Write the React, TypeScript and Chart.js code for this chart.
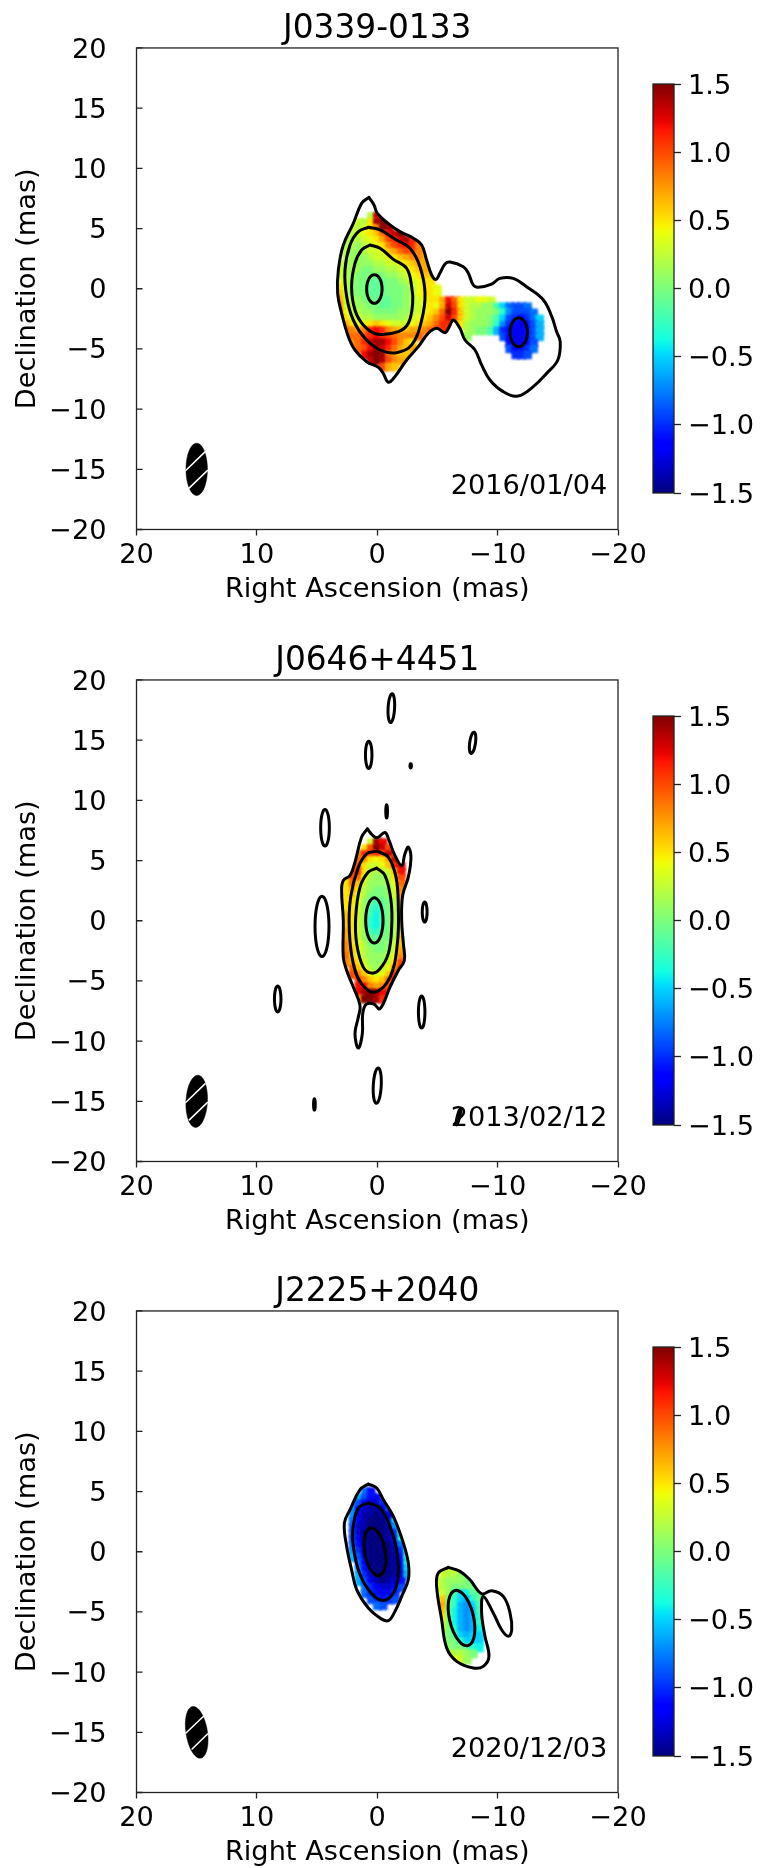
import React, { useEffect, useRef } from "react";
import { Chart, registerables } from "chart.js";

Chart.register(...registerables);

const FONT = "'DejaVu Sans'";
const LEVELS = "ABCDEFGHIJKLMNOPQRSTUVWXYZabcde"; // A = -1.5 ... P = 0 ... e = +1.5 in steps of 0.1

const NAMES = ["J0339-0133", "J0646+4451", "J2225+2040"];
const DATES = ["2016/01/04", "2013/02/12", "2020/12/03"];
const X_LABEL = "Right Ascension (mas)";
const Y_LABEL = "Declination (mas)";

// spectral index maps, 0.5 mas cells, one letter per cell
const MAP_A_ROWS = [
  ".....Rc",
  "...SRUde",
  "..SRSUXed",
  "..RSTUVYbce",
  ".RRRSTUWZacda",
  ".RRQRSTUXZabaX",
  ".RQQRSSTVWYZZX",
  ".RQQQRSSTUVWXXW",
  "SRQQQQRRSSTUVWW",
  "SRQQPPQQRRSTUVWV",
  "SRQPPPPPQQRSTUVV",
  "TRQPPOOOPPQRSTUU",
  "URQPPOOOPPPQRTUUT",
  "VSQPPOOOPPPQRTUUT",
  "WSRQPPOOOPPQRSTUUWbYUSSTTS",
  "XSRQQPPOOPPQRSTUTWcZUSRRQQNKHGGH",
  "YTRRQQPPPPQQRSTUVYeaVSRQQQPMIGGGH",
  "ZUSSRRQQQQQRSTUVXZcZVSRQQPNKGFEFHK",
  ".WUTTUVUTSSSTUVWYaaXURQQQPMIFEDEGJ",
  ".YXWXabaXWVVWWXYZa...RQPPNJFEDDEGJ",
  "..YYZabaZYXXXY.......Q.....GEDDEGJ",
  "..XYacddbZXVU...............EDDEG",
  "...YZbdcaYWVW...............GEEFH",
  "....bdedYWVV.................FFG",
  ".....cedZXW",
  ".......ZWV",
];
const MAP_B_ROWS = [
  "....Sdb",
  "...UZecZ",
  "..XaZaZc",
  "..YXUTUWc",
  ".WZUSSTVac",
  ".ZaURRRSVb",
  "UZYTRQQRUZ",
  "UYVSQQQRTY",
  "UWURQPPQSX",
  "UVTRPPPQSW",
  "UUTQONOPRV",
  "UUSQNMOPRU",
  "VUSQNLNPRU",
  "VUSQMLNPRU",
  "VUSQMLNPRU",
  "WUSQNMOPRU",
  "WUSQOOPPRV",
  "XUTRPPPQSV",
  "XVTRQPPQSW",
  "YVTRQQQRTX",
  "XWUSQQQSUZ",
  ".YVTRQRTXa",
  ".ZXVTSTVa",
  "..aXVUVYb",
  "..bbXWXZ",
  "..bdedb",
  "..Weeda",
];
const MAP_C_CORE_ROWS = [
  "...HE",
  "..JGEE",
  ".IGDCCF",
  ".IECBBCG",
  ".IDBBABD",
  ".HDBAAACK",
  ".GCBAAABI",
  ".GCAAAABFN",
  ".GDAAAABEL",
  ".HEBAAAACH",
  ".IFBAAAABFM",
  ".JGCAAAABEM",
  "..HDAAAABDL",
  "..IEBAAABCK",
  "..JFCAAABCJ",
  "..JGDBABCE",
  "...HFDCCDG",
  "...HFEDDF",
  "....GFEFG",
  ".....HG",
];
const MAP_C_JET_ROWS = [
  ".RSS",
  ".SRRQP",
  "SRQQQPO",
  "TRQPPPPO",
  ".SQNKLOO",
  ".VPMKJMO",
  ".WPMJIKN",
  ".VPLJIJN",
  ".UPLJIJM",
  ".TPLJIJM",
  ".SPMJIJL",
  ".RPNKJKK",
  ".RPPMKKK",
  ".RQPPOML",
  "..RRRQP",
  "...TSQ",
];
const MAP_A_ORIGIN = [3, 6];
const MAP_B_ORIGIN = [2.5, 6.5];
const MAP_C_CORE_ORIGIN = [2.5, 5];
const MAP_C_JET_ORIGIN = [-5, -1.5];

// contours, [RA, Dec] in mas
const CONTOURS_A = [
  [[0.69,7.59],[0.27,6.96],[-0.01,6.26],[-1.06,5.3],[-1.89,4.74],[-3,4.19],[-3.69,3.63],[-4.1,2.39],[-4.52,1.14],[-4.88,0.78],[-5.2,1.28],[-5.63,2.06],[-6.04,2.22],[-7.15,1.83],[-7.57,1.28],[-7.98,0.31],[-8.4,0.12],[-9.5,0.39],[-10.2,0.86],[-11.3,0.86],[-12.4,0.17],[-13.8,-0.93],[-14.5,-2.32],[-14.9,-3.57],[-15.2,-4.4],[-15,-5.92],[-14.07,-7.03],[-12.96,-8.13],[-11.7,-8.91],[-10.47,-8.55],[-9.36,-7.58],[-8.67,-6.33],[-8.12,-5.09],[-7.29,-4.26],[-6.87,-3.29],[-6.32,-2.6],[-5.99,-3.15],[-5.63,-3.65],[-4.93,-3.29],[-4.24,-3.7],[-3.41,-4.81],[-2.44,-5.92],[-1.47,-7.3],[-0.92,-7.77],[-0.5,-7.03],[-0.09,-6.53],[0.88,-6.06],[1.85,-5.09],[2.4,-3.98],[2.96,-2.04],[3.29,-0.38],[3.23,1.56],[2.82,3.63],[1.99,5.43],[1.3,7.09],[0.69,7.59]],
  [[0.74,5.1],[-0.23,4.88],[-1.6,4.05],[-2.72,3.36],[-3.55,1.83],[-3.97,-0.38],[-3.69,-2.6],[-2.86,-4.67],[-1.6,-5.31],[-0.23,-5.09],[1.02,-4.12],[1.99,-2.6],[2.54,-0.66],[2.68,1.56],[2.26,3.63],[1.57,4.74],[0.74,5.1]],
  [[0.6,3.63],[-0.23,3.36],[-1.34,2.44],[-2.44,1.7],[-2.86,0.17],[-2.94,-1.21],[-2.58,-2.87],[-1.75,-3.56],[0.05,-3.76],[1.16,-3.01],[1.85,-1.77],[2.13,0.17],[1.85,2.11],[1.3,3.22],[0.6,3.63]],
];
const CONTOURS_B = [
  [[0.82,7.64],[0.46,7.17],[0,6.89],[-0.64,7.33],[-0.98,6.67],[-1.47,5.42],[-2.03,4.59],[-2.3,5.56],[-2.58,6.12],[-2.8,5.28],[-2.58,3.62],[-2.11,2.1],[-2.03,0.02],[-2.17,-1.91],[-2.25,-3.3],[-1.75,-4.13],[-1.06,-5.51],[-0.23,-7.31],[0.33,-6.9],[0.93,-6.95],[1.21,-7.73],[1.24,-9.39],[1.57,-10.58],[1.85,-9.39],[1.57,-8],[1.43,-7.04],[1.99,-5.51],[2.54,-4.13],[2.82,-3.02],[2.82,0.02],[2.96,2.52],[2.82,3.35],[2.26,3.76],[1.85,4.87],[1.3,6.95],[0.82,7.64]],
  [[0,5.78],[-0.92,5.28],[-1.56,3.62],[-1.75,1.13],[-1.67,-1.91],[-1.06,-4.68],[0.19,-5.93],[1.3,-5.24],[1.99,-3.57],[2.32,-0.81],[2.21,1.96],[1.57,4.45],[0.88,5.56],[0,5.78]],
  [[0.05,4.37],[-0.64,3.76],[-1.14,1.69],[-1.2,-0.53],[-0.92,-2.74],[-0.23,-3.99],[0.46,-4.35],[1.16,-3.85],[1.71,-1.91],[1.79,0.3],[1.43,2.79],[0.74,4.04],[0.05,4.37]],
];
const CONTOURS_C = [
  [[0.74,5.62],[0.05,5.29],[-0.51,4.32],[-1.34,2.93],[-2.17,0.72],[-2.58,-0.94],[-2.58,-2.33],[-2.03,-3.71],[-1.47,-4.96],[-0.92,-5.73],[-0.23,-5.51],[0.74,-4.68],[1.71,-3.14],[2.13,-1.5],[2.54,0.44],[2.73,2.38],[2.26,3.49],[1.43,5.15],[0.74,5.62]],
  [[0.74,4.04],[-0.23,3.63],[-1.06,2.1],[-1.61,0.16],[-1.75,-1.77],[-1.34,-3.43],[-0.37,-4.04],[0.74,-3.14],[1.57,-1.5],[2.04,1],[1.85,2.93],[1.43,3.76],[0.74,4.04]],
  [[-5.9,-1.3],[-6.87,-1.63],[-7.7,-2.33],[-8.67,-3.49],[-9.5,-3.24],[-10.47,-3.71],[-11.03,-5.09],[-11.17,-6.48],[-10.9,-7.03],[-10.33,-6.48],[-9.64,-5.09],[-8.81,-3.71],[-8.67,-5.09],[-8.95,-7.03],[-9.28,-8.69],[-8.81,-9.52],[-7.98,-9.66],[-6.6,-9.11],[-5.77,-8],[-5.35,-5.65],[-4.93,-2.88],[-5.07,-1.77],[-5.9,-1.3]],
];
// small closed components: [RA, Dec, semi-width, semi-height, tilt in degrees]
const OVALS_A = [[0.24,-0.02,0.64,1.19,0],[-11.75,-3.62,0.72,1.19,0]];
const OVALS_B = [
  [0.24,0.02,0.72,1.88,0],[-1.17,17.66,0.27,1.2,-3],[0.71,13.78,0.27,1.13,0],[-7.92,14.78,0.24,0.89,-8],
  [-2.78,12.87,0.06,0.18,0],[-0.78,9.08,0.07,0.55,0],[4.34,7.72,0.36,1.52,0],[4.59,-0.47,0.58,2.5,0],
  [-3.94,0.72,0.2,0.83,0],[-3.69,-7.59,0.27,1.33,0],[8.27,-6.5,0.27,1.08,0],[0,-13.7,0.33,1.47,-3],
  [5.22,-15.26,0.07,0.47,0],[-6.74,-16.3,0.1,0.68,-14],
];
const OVALS_C = [[0.19,0,0.85,2.0,10],[-7,-5.51,1,2.35,13]];

// restoring beams and their hatching
const BEAM_A = [15,-15,0.89,2.17,0];
const BEAM_B = [15,-15,0.89,2.17,-3];
const BEAM_C = [15,-15,0.89,2.17,9];
const HATCH_A = [[[15.89,-15.08],[14.31,-13.55]],[[15.61,-16.54],[14.12,-15.11]]];
const HATCH_B = [[[15.89,-15.08],[14.31,-13.55]],[[15.61,-16.54],[14.12,-15.11]]];
const HATCH_C = [[[15.89,-15.06],[14.45,-13.68]],[[15.38,-16.39],[14.1,-15.14]]];

const DATE_POS = [-6.1, -16.45];
const COLORBAR_TICKS = [-1.5, -1, -0.5, 0, 0.5, 1, 1.5];
const COLORBAR_RANGE = [-1.5, 1.5];

const lerp = (pts: number[][], t: number) => {
  for (let i = 1; i < pts.length; i++) {
    if (t <= pts[i][0]) {
      const [a, av] = pts[i - 1];
      const [b, bv] = pts[i];
      return av + ((bv - av) * (t - a)) / (b - a);
    }
  }
  return pts[pts.length - 1][1];
};
const JET_R = [[0,0],[0.35,0],[0.66,1],[0.89,1],[1,0.5]];
const JET_G = [[0,0],[0.125,0],[0.375,1],[0.64,1],[0.91,0],[1,0]];
const JET_B = [[0,0.5],[0.11,1],[0.34,1],[0.65,0],[1,0]];
const jet = (v: number) => {
  const t = Math.min(1, Math.max(0, (v + 1.5) / 3));
  const c = (p: number[][]) => Math.round(lerp(p, t) * 255);
  return `rgb(${c(JET_R)},${c(JET_G)},${c(JET_B)})`;
};

const cells = (rows: string[], origin: number[]) => {
  const out: { x: number; y: number; v: number }[] = [];
  rows.forEach((row, j) => {
    [...row].forEach((ch, i) => {
      const k = LEVELS.indexOf(ch);
      if (k >= 0) out.push({ x: origin[0] - i * 0.5, y: origin[1] - j * 0.5, v: (k - 15) / 10 });
    });
  });
  return out;
};

const oval = ([cx, cy, rx, ry, tilt]: number[]) => {
  const t = (tilt * Math.PI) / 180;
  const pts: number[][] = [];
  for (let i = 0; i <= 24; i++) {
    const a = (i / 24) * 2 * Math.PI;
    const dx = rx * Math.cos(a);
    const dy = ry * Math.sin(a);
    pts.push([cx + dx * Math.cos(t) + dy * Math.sin(t), cy - dx * Math.sin(t) + dy * Math.cos(t)]);
  }
  return pts;
};

const asXY = (pts: number[][]) => pts.map(([x, y]) => ({ x, y }));
const fmt = (v: number, d: number) => (v < 0 ? "\u2212" : "") + Math.abs(v).toFixed(d);

const CELL_RADIUS = 6;
const TICK_FONT = { family: FONT, size: 27.2 };
const INK = "#000";

const framePlugin = {
  id: "frame",
  beforeDraw(chart: any) {
    // DejaVu digits sit a little high on the "middle" baseline: nudge the vertical axis labels
    const s = chart.scales.y;
    if (!s) return;
    for (const it of s.getLabelItems()) {
      if (!it._nudged) {
        it.textOffset += 2.5;
        it._nudged = true;
      }
    }
  },
  beforeDatasetDraw(chart: any, args: any, opts: any) {
    if (!chart.data.datasets[args.index].softCells) return;
    const { ctx, scales } = chart;
    ctx.save();
    // the maps are only shown inside the lowest contour
    ctx.beginPath();
    for (const path of opts.outer || []) {
      path.forEach(([x, y]: number[], i: number) => {
        const px = scales.x.getPixelForValue(x);
        const py = scales.y.getPixelForValue(y);
        if (i) ctx.lineTo(px, py);
        else ctx.moveTo(px, py);
      });
      ctx.closePath();
    }
    ctx.clip();
    ctx.filter = "blur(1.2px)";
  },
  afterDatasetDraw(chart: any, args: any) {
    if (chart.data.datasets[args.index].softCells) chart.ctx.restore();
  },
  afterDatasetsDraw(chart: any, _a: any, opts: any) {
    const { ctx, chartArea: c, scales } = chart;
    ctx.save();
    ctx.strokeStyle = "#222";
    ctx.lineWidth = 1.3;
    ctx.strokeRect(c.left, c.top, c.right - c.left, c.bottom - c.top);
    if (opts.inward) {
      ctx.beginPath();
      for (const t of scales.y.ticks) {
        const p = scales.y.getPixelForValue(t.value);
        ctx.moveTo(c.left, p);
        ctx.lineTo(c.left + 6, p);
      }
      ctx.stroke();
    }
    if (opts.date) {
      ctx.fillStyle = INK;
      ctx.font = `27.2px ${FONT}`;
      ctx.textAlign = "left";
      ctx.textBaseline = "middle";
      ctx.fillText(opts.date, scales.x.getPixelForValue(DATE_POS[0]), scales.y.getPixelForValue(DATE_POS[1]));
    }
    ctx.restore();
  },
};

type PanelProps = {
  top: number; name: string; date: string;
  maps: { x: number; y: number; v: number }[][];
  contours: number[][][]; ovals: number[][]; beam: number[]; hatch: number[][][]; outer: number[][][];
};

function Panel({ top, name, date, maps, contours, ovals, beam, hatch, outer }: PanelProps) {
  const ref = useRef<HTMLCanvasElement>(null);
  const barRef = useRef<HTMLCanvasElement>(null);
  useEffect(() => {
    const line = (pts: number[][]) => ({
      data: asXY(pts), showLine: true, pointRadius: 0, borderColor: "#000", borderWidth: 3,
      tension: 0.4, fill: false, order: 1, borderJoinStyle: "round", borderCapStyle: "round",
    });
    const chart = new Chart(ref.current!, {
      type: "scatter",
      data: {
        datasets: [
          ...maps.map((m) => ({
            data: m, order: 10, softCells: true, pointStyle: "rect", pointRadius: CELL_RADIUS, pointBorderWidth: 0, pointHoverRadius: CELL_RADIUS,
            pointBackgroundColor: (c: any) => (c.raw ? jet(c.raw.v) : "#fff"),
          })),
          ...contours.map(line),
          ...ovals.map((o) => line(oval(o))),
          { ...line(oval(beam)), backgroundColor: "#000", fill: "shape", borderWidth: 0.5, order: 3 },
          ...hatch.map((h) => ({ ...line(h), borderColor: "#fff", borderWidth: 1.5, tension: 0, order: 2 })),
        ],
      } as any,
      options: {
        responsive: false, animation: false, devicePixelRatio: 1,
        layout: { padding: { right: 136, left: 0, top: 0, bottom: 0 } },
        events: [],
        scales: {
          x: {
            type: "linear", min: -20, max: 20, reverse: true,
            afterFit: (s: any) => { s.height = 75.5; },
            border: { display: false },
            grid: { drawOnChartArea: false, drawTicks: true, tickLength: 6, tickWidth: 1.3, tickColor: "#222" },
            ticks: { stepSize: 10, color: INK, font: TICK_FONT, padding: 4, maxRotation: 0, autoSkip: false, callback: (v: any) => fmt(v, 0) },
            title: { display: true, text: X_LABEL, color: INK, font: { family: FONT, size: 27.2 }, padding: { top: 0, bottom: -1 } },
          },
          y: {
            type: "linear", min: -20, max: 20,
            afterFit: (s: any) => { s.width = 136.5; },
            border: { display: false },
            grid: { drawOnChartArea: false, drawTicks: false },
            ticks: { stepSize: 5, color: INK, font: TICK_FONT, padding: 30, autoSkip: false, callback: (v: any) => fmt(v, 0) },
            title: { display: true, text: Y_LABEL, color: INK, font: { family: FONT, size: 27.2 }, padding: { top: 12, bottom: 0 } },
          },
        },
        plugins: {
          legend: { display: false }, tooltip: { enabled: false },
          title: { display: true, fullSize: false, text: name, color: INK, font: { family: FONT, size: 32.8, weight: "normal" }, padding: { top: 10, bottom: -1.4 } },
          frame: { date, inward: true, outer },
        },
      } as any,
      plugins: [framePlugin] as any,
    });
    const bar = new Chart(barRef.current!, {
      type: "bar",
      data: {
        labels: ["alpha"],
        datasets: [{
          data: [COLORBAR_RANGE], barPercentage: 1, categoryPercentage: 1, borderWidth: 0,
          backgroundColor: (c: any) => {
            const a = c.chart.chartArea;
            if (!a) return "#888";
            const g = c.chart.ctx.createLinearGradient(0, a.bottom, 0, a.top);
            for (let i = 0; i <= 64; i++) g.addColorStop(i / 64, jet(-1.5 + (3 * i) / 64));
            return g;
          },
        }],
      } as any,
      options: {
        responsive: false, animation: false, devicePixelRatio: 1, events: [],
        layout: { padding: { left: 13, top: 0, bottom: 0, right: 0 } },
        scales: {
          x: { display: false },
          y: {
            position: "right", min: COLORBAR_RANGE[0], max: COLORBAR_RANGE[1],
            afterFit: (s: any) => { s.width = 87; s.paddingTop = 16; s.paddingBottom = 16; },
            afterBuildTicks: (s: any) => { s.ticks = COLORBAR_TICKS.map((value) => ({ value })); },
            border: { display: false },
            grid: { drawOnChartArea: false, tickLength: 7, tickWidth: 1.3, tickColor: "#222" },
            ticks: { color: INK, font: TICK_FONT, padding: 7, autoSkip: false, callback: (v: any) => fmt(v, 1) },
          },
        },
        plugins: { legend: { display: false }, tooltip: { enabled: false }, frame: {} },
      } as any,
      plugins: [framePlugin] as any,
    });
    return () => { chart.destroy(); bar.destroy(); };
  }, []);
  return (
    <>
      <canvas ref={ref} width={754} height={605} style={{ position: "absolute", left: 0, top: top - 48, display: "block" }} />
      <canvas ref={barRef} width={121} height={441} style={{ position: "absolute", left: 640, top: top + 36 - 16, display: "block" }} />
    </>
  );
}

export default function App() {
  return (
    <div style={{ position: "absolute", left: 0, top: 0, width: 761, height: 1868, background: "#fff", overflow: "hidden" }}>
      <Panel top={48} name={NAMES[0]} date={DATES[0]} maps={[cells(MAP_A_ROWS, MAP_A_ORIGIN)]} contours={CONTOURS_A} ovals={OVALS_A} beam={BEAM_A} hatch={HATCH_A} outer={[CONTOURS_A[0]]} />
      <Panel top={680} name={NAMES[1]} date={DATES[1]} maps={[cells(MAP_B_ROWS, MAP_B_ORIGIN)]} contours={CONTOURS_B} ovals={OVALS_B} beam={BEAM_B} hatch={HATCH_B} outer={[CONTOURS_B[0]]} />
      <Panel top={1311} name={NAMES[2]} date={DATES[2]} maps={[cells(MAP_C_CORE_ROWS, MAP_C_CORE_ORIGIN), cells(MAP_C_JET_ROWS, MAP_C_JET_ORIGIN)]} contours={CONTOURS_C} ovals={OVALS_C} beam={BEAM_C} hatch={HATCH_C} outer={[CONTOURS_C[0], CONTOURS_C[2]]} />
    </div>
  );
}
